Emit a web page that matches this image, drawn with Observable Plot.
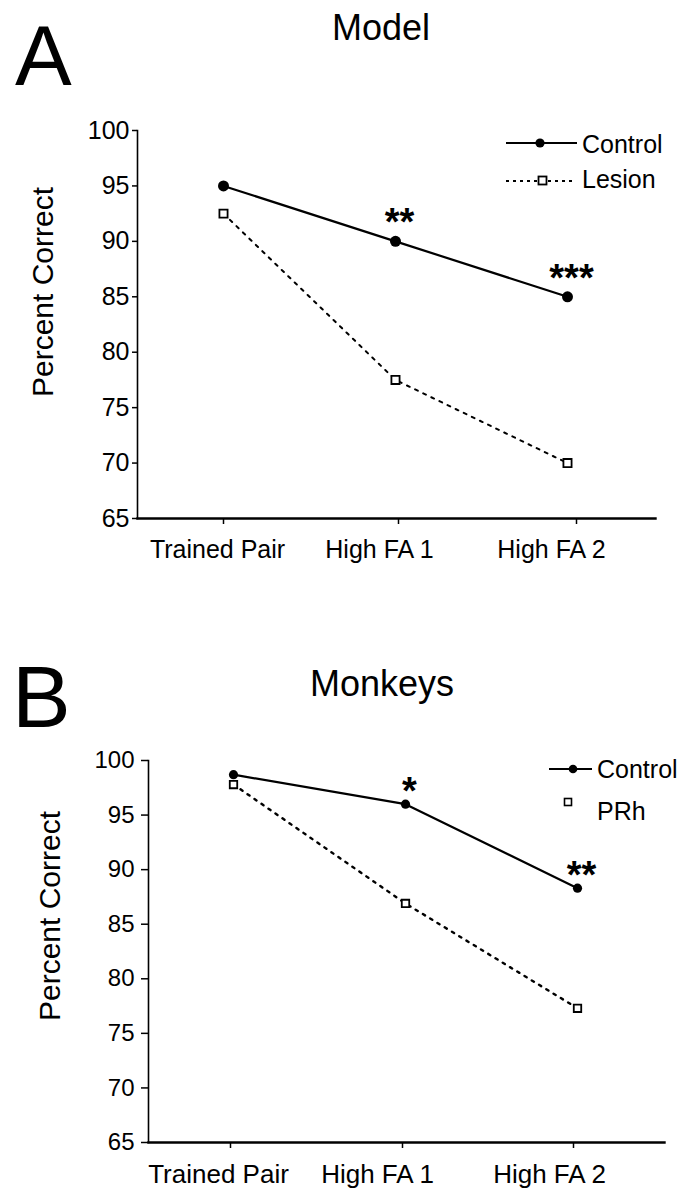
<!DOCTYPE html>
<html><head><meta charset="utf-8">
<script src="https://cdn.jsdelivr.net/npm/d3@7"></script>
<script src="https://cdn.jsdelivr.net/npm/@observablehq/plot@0.6"></script>
<style>
body{margin:0;background:#fff;}
#wrap{position:relative;width:696px;height:1191px;overflow:hidden;font-family:"Liberation Sans",Arial,sans-serif;background:#fff;}
.panel{position:absolute;left:0;}
.overlay{position:absolute;left:0;top:0;pointer-events:none;}
</style></head><body><div id="wrap"></div>
<script>
// ---- data ----
const categories = ["Trained Pair", "High FA 1", "High FA 2"];
const yTicks = [65, 70, 75, 80, 85, 90, 95, 100];
const modelControl = [95.0, 90.0, 85.0];
const modelLesion = [92.5, 77.5, 70.0];
const modelStars = ["", "**", "***"];
const monkeyControl = [98.7, 96.0, 88.3];
const monkeyPRh = [97.8, 86.9, 77.3];
const monkeyStars = ["", "*", "**"];

const FONT = '"Liberation Sans", Arial, Helvetica, sans-serif';
const rows = (vals, stars) => categories.map((c, i) => ({cat: c, value: vals[i], star: stars ? stars[i] : ""}));

function panel(o) {
  const ctrl = rows(o.control, o.stars);
  const les = rows(o.lesion);
  return Plot.plot({
    width: 696, height: o.height,
    marginTop: o.mt, marginBottom: o.mb, marginLeft: o.ml, marginRight: o.mr,
    style: {fontFamily: FONT, color: "black", background: "white"},
    x: {type: "point", domain: categories, range: o.xr, padding: 0},
    y: {domain: [65, 100]},
    marks: [
      Plot.frame({anchor: "left", stroke: "black", strokeWidth: 1.6}),
      Plot.frame({anchor: "bottom", stroke: "black", strokeWidth: 2.4}),
      Plot.axisY({ticks: yTicks, tickSize: o.ytick, tickPadding: o.ypad, fontSize: o.yfs, label: null, stroke: "black", strokeWidth: 1.5}),
      ...categories.map((c, i) => Plot.axisX([c], {tickSize: 6, tickFormat: () => "", label: null, dx: o.tickDx[i], strokeWidth: 1.5})),
      ...categories.map((c, i) => Plot.axisX([c], {tickSize: 0, tickPadding: o.xpad, fontSize: o.xfs, label: null, dx: o.labDx[i]})),
      Plot.line(les, {x: "cat", y: "value", stroke: "black", strokeWidth: o.lesW, strokeDasharray: o.dash}),
      Plot.line(ctrl, {x: "cat", y: "value", stroke: "black", strokeWidth: 2.2}),
      Plot.dot(ctrl, {x: "cat", y: "value", r: o.cr, fill: "black"}),
      Plot.dot(les, {x: "cat", y: "value", symbol: "square", r: o.sr, fill: "white", stroke: "black", strokeWidth: 1.8}),
      Plot.text(ctrl, {x: "cat", y: "value", text: "star", lineAnchor: "bottom", dy: o.starDy, dx: 4, fontSize: o.starFs, fontWeight: "bold"})
    ]
  });
}

const wrap = document.getElementById("wrap");

const pA = panel({
  height: 600, mt: 130, mb: 82, ml: 137, mr: 41, xr: [223, 567],
  control: modelControl, lesion: modelLesion, stars: modelStars,
  ytick: 5, ypad: 3, yfs: 25, xfs: 25, xpad: 22,
  tickDx: [0, 3, 9], labDx: [-6, -16, -16],
  lesW: 2, dash: "3,6", cr: 5.5, sr: 4.6, starDy: -6, starFs: 38
});
pA.classList.add("panel"); pA.style.top = "0px";
wrap.appendChild(pA);

const pB = panel({
  height: 591, mt: 160, mb: 49, ml: 148, mr: 32, xr: [232, 577],
  control: monkeyControl, lesion: monkeyPRh, stars: monkeyStars,
  ytick: 7, ypad: 7, yfs: 24, xfs: 26, xpad: 22,
  tickDx: [-3, -3, -4], labDx: [-15, -28, -28],
  lesW: 2.4, dash: "2.5,6", cr: 4.6, sr: 4.2, starDy: 0, starFs: 38
});
pB.classList.add("panel"); pB.style.top = "600px";
wrap.appendChild(pB);

// ---- titles, panel letters, axis titles, legends ----
const svg = d3.select(wrap).append("svg").attr("class", "overlay")
  .attr("width", 696).attr("height", 1191).style("font-family", FONT);

function txt(t, x, y, fs, anchor, rot) {
  const e = svg.append("text").text(t).attr("font-size", fs).attr("fill", "black")
    .attr("text-anchor", anchor || "start");
  if (rot) e.attr("transform", `translate(${x},${y}) rotate(-90)`);
  else e.attr("x", x).attr("y", y);
  return e;
}
txt("A", 15, 85, 85);
txt("Model", 381, 40, 36, "middle");
txt("Percent Correct", 53, 292, 30, "middle", true);
txt("B", 12, 727, 88);
txt("Monkeys", 382, 696, 36, "middle");
txt("Percent Correct", 60, 916, 30, "middle", true);

// legend A
svg.append("line").attr("x1", 506).attr("x2", 577).attr("y1", 143).attr("y2", 143).attr("stroke", "black").attr("stroke-width", 2);
svg.append("circle").attr("cx", 540).attr("cy", 143).attr("r", 4.6).attr("fill", "black");
txt("Control", 582, 153, 25);
svg.append("line").attr("x1", 506).attr("x2", 575).attr("y1", 181).attr("y2", 181).attr("stroke", "black").attr("stroke-width", 1.8).attr("stroke-dasharray", "3,4");
svg.append("rect").attr("x", 538.5).attr("y", 176.5).attr("width", 8).attr("height", 8).attr("fill", "white").attr("stroke", "black").attr("stroke-width", 1.8);
txt("Lesion", 582, 188, 25);

// legend B
svg.append("line").attr("x1", 549).attr("x2", 592).attr("y1", 769).attr("y2", 769).attr("stroke", "black").attr("stroke-width", 2);
svg.append("circle").attr("cx", 573).attr("cy", 769).attr("r", 4.3).attr("fill", "black");
txt("Control", 597, 778, 25);
svg.append("rect").attr("x", 564.5).attr("y", 798.5).attr("width", 7).attr("height", 7).attr("fill", "white").attr("stroke", "black").attr("stroke-width", 1.6);
txt("PRh", 597, 820, 25);
</script></body></html>
